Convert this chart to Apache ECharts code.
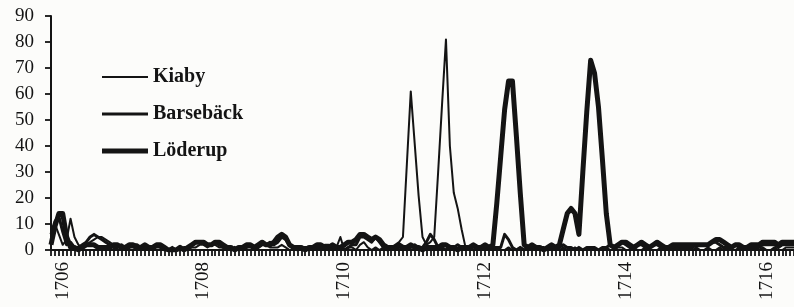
<!DOCTYPE html>
<html lang="sv">
<head>
<meta charset="UTF-8">
<title>Kiaby, Barsebäck, Löderup</title>
<script src="https://cdn.jsdelivr.net/npm/echarts@6/dist/echarts.min.js"></script>
<style>
  html, body { margin: 0; padding: 0; background: #fcfcfa; }
  #main { width: 794px; height: 307px; }
</style>
</head>
<body>
<div id="main"></div>
<script type="text/javascript">
    // tick labels on the time axis (every second year)
    var yearLabels = ['1706', '1708', '1710', '1712', '1714', '1716'];
    var stepsPerYear = 18;      // observations per year
    var firstLabelIndex = 3;    // position of 1706 in the series
    var nPoints = 191;

    // tick labels on the value axis
    var yTicks = [0, 10, 20, 30, 40, 50, 60, 70, 80, 90];

    var kiaby = [
        4, 10, 6, 2, 4, 12, 5, 2, 1, 2,
        3, 4, 5, 5, 4, 3, 2, 1, 1, 0,
        1, 1, 0, 0, 1, 0, 0, 1, 1, 0,
        0, 0, 0, 0, 0, 0, 1, 1, 2, 2,
        1, 2, 2, 1, 1, 0, 0, 0, 0, 0,
        1, 1, 0, 1, 2, 2, 1, 1, 1, 2,
        1, 0, 0, 0, 1, 1, 0, 0, 1, 1,
        2, 2, 1, 1, 5, 0, 1, 1, 0, 2,
        3, 1, 0, 1, 0, 1, 0, 1, 2, 3,
        5, 33, 61, 41, 21, 5, 2, 3, 5, 30,
        56, 81, 40, 22, 16, 8, 1, 0, 0, 1,
        0, 0, 1, 1, 0, 0, 0, 1, 0, 0,
        1, 0, 0, 0, 0, 1, 0, 0, 0, 0,
        0, 1, 0, 0, 1, 0, 0, 0, 1, 0,
        0, 0, 1, 0, 0, 1, 1, 0, 0, 1,
        0, 0, 1, 0, 0, 0, 1, 0, 0, 0,
        1, 0, 0, 0, 0, 1, 0, 0, 1, 0,
        0, 1, 0, 0, 0, 0, 1, 0, 0, 0,
        0, 0, 1, 0, 0, 1, 0, 0, 1, 1,
        1
    ];

    var barseback = [
        6, 11, 13, 7, 2, 3, 1, 1, 2, 3,
        5, 6, 5, 4, 3, 2, 1, 1, 2, 1,
        1, 2, 2, 1, 0, 1, 1, 2, 1, 0,
        0, 1, 0, 0, 1, 1, 2, 3, 3, 3,
        2, 2, 3, 2, 1, 1, 0, 1, 0, 1,
        1, 2, 1, 1, 2, 2, 3, 2, 3, 5,
        4, 2, 1, 0, 1, 1, 1, 0, 1, 1,
        1, 0, 1, 1, 1, 0, 1, 2, 2, 5,
        5, 4, 3, 5, 3, 1, 0, 1, 1, 0,
        1, 0, 1, 2, 1, 1, 3, 6, 4, 1,
        1, 0, 1, 1, 2, 1, 1, 1, 0, 1,
        1, 1, 1, 1, 1, 1, 6, 4, 1, 0,
        1, 0, 1, 1, 0, 1, 1, 0, 1, 1,
        1, 2, 1, 1, 0, 1, 0, 1, 1, 1,
        0, 1, 1, 2, 1, 2, 3, 2, 1, 1,
        2, 2, 1, 1, 2, 2, 1, 1, 1, 1,
        1, 1, 1, 1, 1, 2, 2, 2, 2, 3,
        3, 2, 1, 1, 1, 2, 1, 1, 1, 1,
        1, 1, 2, 2, 2, 2, 1, 2, 2, 2,
        2
    ];

    var loderup = [
        2, 9, 14, 14, 5, 1, 1, 0, 1, 2,
        2, 2, 1, 1, 1, 1, 2, 2, 1, 1,
        2, 2, 1, 1, 2, 1, 1, 2, 2, 1,
        0, 0, 0, 1, 0, 1, 2, 3, 3, 3,
        2, 2, 3, 3, 2, 1, 1, 0, 1, 1,
        2, 2, 1, 2, 3, 2, 2, 3, 5, 6,
        5, 2, 1, 1, 1, 0, 1, 1, 2, 2,
        1, 1, 2, 1, 1, 2, 3, 3, 4, 6,
        6, 5, 4, 5, 4, 2, 1, 1, 1, 2,
        1, 1, 2, 1, 1, 0, 1, 1, 1, 1,
        2, 2, 1, 1, 0, 1, 1, 1, 2, 1,
        1, 2, 1, 2, 18, 36, 54, 65, 65, 44,
        22, 2, 1, 2, 1, 1, 0, 1, 2, 1,
        2, 8, 14, 16, 14, 6, 30, 53, 73, 68,
        55, 35, 14, 2, 1, 2, 3, 3, 2, 1,
        2, 3, 2, 1, 2, 3, 2, 1, 1, 2,
        2, 2, 2, 2, 2, 2, 2, 2, 2, 3,
        4, 4, 3, 2, 1, 2, 2, 1, 1, 2,
        2, 2, 3, 3, 3, 3, 2, 3, 3, 3,
        3
    ];

    // category axis: one slot per observation, year shown every second year
    var periods = [];
    for (var i = 0; i < nPoints; i++) {
        var k = i - firstLabelIndex;
        var lab = '';
        if (k >= 0 && k % (2 * stepsPerYear) === 0) {
            lab = yearLabels[k / (2 * stepsPerYear)] || '';
        }
        periods.push(lab);
    }

    var ink = '#141414';
    var serif = '"Liberation Serif", "DejaVu Serif", serif';
    var widths = { 'Kiaby': 2, 'Barsebäck': 3, 'Löderup': 5 };

    // legend icons: plain strokes of the series' thickness
    function strokeIcon(w) {
        return 'path://M0,0H46V' + w + 'H0Z';
    }

    var myChart = echarts.init(document.getElementById('main'));

    myChart.setOption({
        backgroundColor: '#fcfcfa',
        animation: false,
        grid: { left: 51, right: 0, top: 16, bottom: 57 },
        legend: {
            orient: 'vertical',
            left: 97,
            top: 62,
            itemWidth: 46,
            itemHeight: 14,
            itemGap: 17,
            textStyle: { fontFamily: serif, fontSize: 20, fontWeight: 'bold', color: ink },
            data: [
                { name: 'Kiaby', icon: strokeIcon(widths['Kiaby']) },
                { name: 'Barsebäck', icon: strokeIcon(widths['Barsebäck']) },
                { name: 'Löderup', icon: strokeIcon(widths['Löderup']) }
            ]
        },
        xAxis: {
            type: 'category',
            boundaryGap: false,
            data: periods,
            axisLine: { lineStyle: { color: ink, width: 2 } },
            axisTick: { interval: 0, length: 6, lineStyle: { color: ink, width: 1.8 } },
            axisLabel: {
                interval: function (index, value) { return value !== ''; },
                rotate: 90,
                margin: 12,
                fontFamily: serif,
                fontSize: 19,
                color: ink
            },
            splitLine: { show: false }
        },
        yAxis: {
            type: 'value',
            min: yTicks[0],
            max: yTicks[yTicks.length - 1],
            interval: 10,
            axisLine: { show: true, lineStyle: { color: ink, width: 2 } },
            axisTick: { show: true, length: 6, lineStyle: { color: ink, width: 1.8 } },
            axisLabel: { margin: 17, fontFamily: serif, fontSize: 19, color: ink },
            splitLine: { show: false }
        },
        series: [
            {
                name: 'Kiaby',
                type: 'line',
                data: kiaby,
                symbol: 'none',
                color: ink,
                lineStyle: { color: ink, width: widths['Kiaby'], join: 'round' },
                z: 4
            },
            {
                name: 'Barsebäck',
                type: 'line',
                data: barseback,
                symbol: 'none',
                color: ink,
                lineStyle: { color: ink, width: widths['Barsebäck'], join: 'round' },
                z: 3
            },
            {
                name: 'Löderup',
                type: 'line',
                data: loderup,
                symbol: 'none',
                color: ink,
                lineStyle: { color: ink, width: widths['Löderup'], join: 'round' },
                z: 2
            }
        ]
    });
</script>
</body>
</html>
